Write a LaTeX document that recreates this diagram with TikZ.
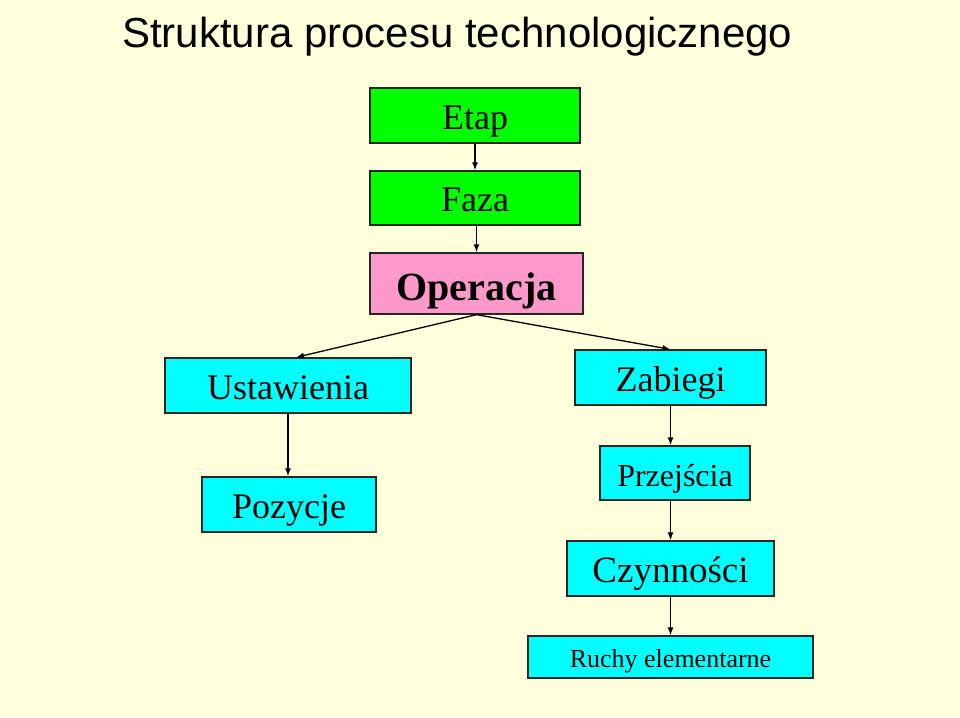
\documentclass[tikz,border=0pt]{standalone}
\usepackage{fontspec}
\setmainfont{Liberation Serif}
\newfontfamily\titlefont{Liberation Sans}
\usepackage{xcolor}
\usetikzlibrary{arrows.meta,calc,positioning}

\definecolor{bgyellow}{HTML}{FFFFDB}
\definecolor{boxgreen}{HTML}{00FF00}
\definecolor{boxpink}{HTML}{FF99CC}
\definecolor{boxcyan}{HTML}{00FFFF}

\begin{document}
\begin{tikzpicture}[
  x=1pt,y=-1pt,
  level/.style={draw=black!85,line width=1.3pt,inner sep=0pt,minimum height=55pt,
    text height=41.5pt,text depth=13.5pt,font=\fontsize{36}{40}\selectfont},
  greenbox/.style={level,fill=boxgreen,minimum width=210pt},
  pinkbox/.style={level,fill=boxpink,minimum width=213pt,minimum height=61pt,
    text height=47.5pt,font=\fontsize{40}{44}\selectfont\bfseries},
  cyanbox/.style={level,fill=boxcyan},
  arrow/.style={-{Latex[length=8pt,width=6pt]},line width=1.3pt}
]
\fill[bgyellow] (0,0) rectangle (960,717);
\useasboundingbox (0,0) rectangle (960,717);

\node[anchor=base west,inner sep=0pt,font=\titlefont\fontsize{42}{46}\selectfont] (title) at (122,48) {Struktura procesu technologicznego};

\node[greenbox] (etap) at (475,115.5) {Etap};
\node[greenbox,minimum height=54pt,text height=40.5pt] (faza) at (475,198) {Faza};
\node[pinkbox] (oper) at (476.5,283.5) {Operacja};

\node[cyanbox,minimum width=246pt] (ustaw) at (288,385.5) {Ustawienia};
\node[cyanbox,minimum width=174pt] (pozyc) at (289,504.5) {Pozycje};

\node[cyanbox,minimum width=191pt] (zabieg) at (670.5,377.5) {Zabiegi};
\node[cyanbox,minimum width=150pt,minimum height=54pt,text height=40.5pt,font=\fontsize{32}{36}\selectfont] (przej) at (675,473) {Przejścia};
\node[cyanbox,minimum width=207pt,font=\fontsize{37}{41}\selectfont] (czynn) at (670.5,568.5) {Czynności};
\node[cyanbox,minimum width=285pt,minimum height=42pt,text height=31pt,text depth=11pt,font=\fontsize{26}{30}\selectfont] (ruchy) at (670.5,657) {Ruchy elementarne};

\draw[arrow] (etap) -- (faza);
\draw[arrow] (faza.south -| oper.north) -- (oper);
\draw[arrow] (oper.south) -- ($(ustaw.north)+(8,0)$);
\draw[arrow] (oper.south) -- (zabieg.north);
\draw[arrow] (ustaw.south) -- (pozyc.north -| ustaw.south);
\draw[arrow] (zabieg.south) -- (przej.north -| zabieg.south);
\draw[arrow] (przej.south -| zabieg.south) -- (czynn.north);
\draw[arrow] (czynn) -- (ruchy);
\end{tikzpicture}
\end{document}
